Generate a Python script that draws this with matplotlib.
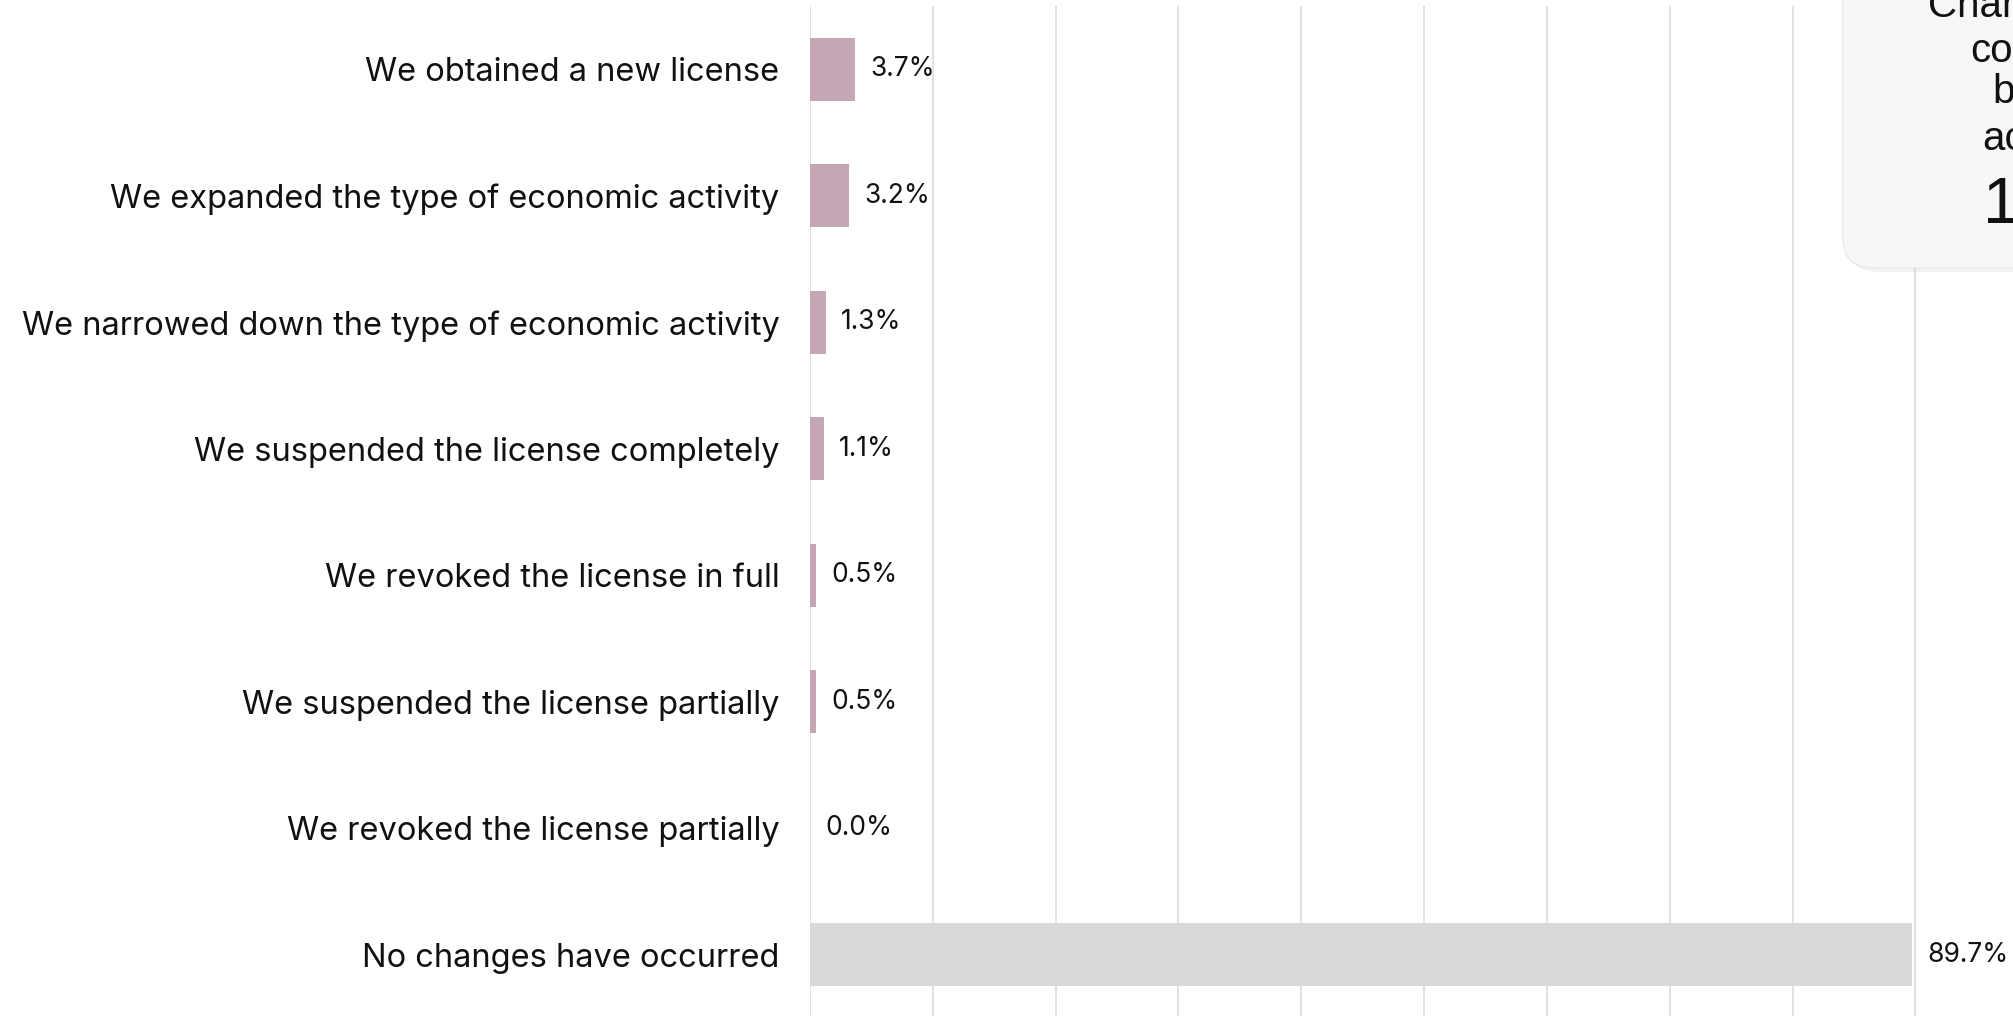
import matplotlib
matplotlib.use("Agg")
from matplotlib import pyplot as plt
from matplotlib.patches import FancyBboxPatch

plt.rcParams['font.family'] = ['Inter', 'DejaVu Sans']

categories = [
    "We obtained a new license",
    "We expanded the type of economic activity",
    "We narrowed down the type of economic activity",
    "We suspended the license completely",
    "We revoked the license in full",
    "We suspended the license partially",
    "We revoked the license partially",
    "No changes have occurred",
]
values = [3.7, 3.2, 1.3, 1.1, 0.5, 0.5, 0.0, 89.7]
bar_colors = ["#c4a6b5"] * 7 + ["#d9d9d9"]
card_lines = ["Changes in", "conducted", "by type", "activity", "10.4%"]

W, H = 2013, 1016
fig = plt.figure(figsize=(W / 100, H / 100), dpi=100)
ax = fig.add_axes([810 / W, -2 / H, 1203 / W, 1012 / H])

ypos = list(range(len(categories)))
ax.barh(ypos, values, height=0.5, color=bar_colors, zorder=2)
for y, v in zip(ypos, values):
    ax.annotate(f"{v:.1f}%", xy=(v, y), xytext=(11, 0), textcoords="offset points",
                va="center", ha="left", fontsize=19, color="#111111")

ax.set_xlim(0, 97.95)
ax.set_ylim(len(categories) - 0.5, -0.5)
ax.set_xticks(range(0, 100, 10))
ax.set_xticklabels([])
ax.set_yticks(ypos)
ax.set_yticklabels(categories, fontsize=23.5, color="#111111")
ax.tick_params(axis="both", length=0, pad=22)
ax.grid(axis="x", color="#dddddd", linewidth=1.2, zorder=0)
ax.set_axisbelow(True)
for s in ax.spines.values():
    s.set_visible(False)

# card partly visible at top right
shadow = FancyBboxPatch((1846 / W, 1 - 272 / H), 400 / W, 400 / H,
                        boxstyle="round,pad=0,rounding_size=0.016",
                        transform=fig.transFigure, facecolor="#000000", alpha=0.05,
                        edgecolor="none", zorder=5, mutation_aspect=W / H)
card = FancyBboxPatch((1843 / W, 1 - 268 / H), 400 / W, 400 / H,
                      boxstyle="round,pad=0,rounding_size=0.015",
                      transform=fig.transFigure, facecolor="#f7f8fa", alpha=0.93,
                      edgecolor="#e6e8ec", linewidth=1, zorder=6, mutation_aspect=W / H)
fig.patches.extend([shadow, card])

line_x = [1928, 1970, 1993, 1982, 1983]
line_y = [17, 62, 103, 150, 223]
sizes = [29, 29, 29, 29, 47]
for t, x, y, s in zip(card_lines, line_x, line_y, sizes):
    fig.text(x / W, 1 - y / H, t, fontsize=s, ha="left", va="baseline",
             family=["Liberation Sans", "DejaVu Sans"], color="#111111", zorder=7)

fig.savefig("out.png", dpi=100)
